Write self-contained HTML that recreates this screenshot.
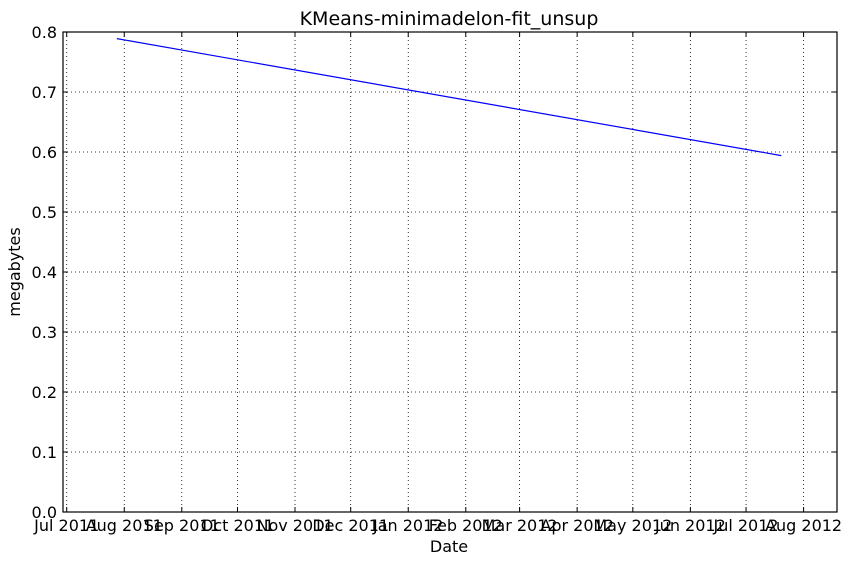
<!DOCTYPE html>
<html><head><meta charset="utf-8"><style>
body{margin:0;background:#fff;font-family:"Liberation Sans","DejaVu Sans",sans-serif}
svg text{font-family:"DejaVu Sans","Liberation Sans",sans-serif;font-size:16px;fill:#000}
</style></head><body>
<svg id="c" width="856" height="561" xmlns="http://www.w3.org/2000/svg">
<rect width="856" height="561" fill="#fff"/>
<text x="449" y="25" text-anchor="middle" style="font-size:19px">KMeans-minimadelon-fit_unsup</text>
<text x="449" y="552" text-anchor="middle">Date</text>
<text transform="translate(20,272) rotate(-90)" text-anchor="middle">megabytes</text>
</svg>
<script>
const xTickLabels=["Jul 2011","Aug 2011","Sep 2011","Oct 2011","Nov 2011","Dec 2011","Jan 2012","Feb 2012","Mar 2012","Apr 2012","May 2012","Jun 2012","Jul 2012","Aug 2012"];
const xTickDates=["2011-07-01","2011-08-01","2011-09-01","2011-10-01","2011-11-01","2011-12-01","2012-01-01","2012-02-01","2012-03-01","2012-04-01","2012-05-01","2012-06-01","2012-07-01","2012-08-01"];
const yTicks=[0,0.1,0.2,0.3,0.4,0.5,0.6,0.7,0.8];
const seriesDates=["2011-07-28","2012-07-20"];
const seriesValues=[0.789,0.594];
const L=63,R=837,T=32,B=512;
const d0=Date.UTC(2011,5,29), d1=Date.UTC(2012,7,19);
function day(s){const p=s.split('-');return Date.UTC(+p[0],+p[1]-1,+p[2]);}
function xs(s){return L+(day(s)-d0)/(d1-d0)*(R-L);}
function ys(v){return B-v/0.8*(B-T);}
const svg=document.getElementById('c');const NS='http://www.w3.org/2000/svg';
function mk(t,a){const e=document.createElementNS(NS,t);for(const k in a)e.setAttribute(k,a[k]);svg.appendChild(e);return e;}
yTicks.forEach(v=>{const y=ys(v);
 const g=mk('line',{x1:L,x2:R,y1:y,y2:y,stroke:'#000','stroke-width':0.8,'stroke-dasharray':'1,3'});
 
 
 mk('line',{x1:L,x2:L+5,y1:y,y2:y,stroke:'#000'});mk('line',{x1:R-5,x2:R,y1:y,y2:y,stroke:'#000'});
 const t=mk('text',{x:L-6,y:y+6,'text-anchor':'end'});t.textContent=v.toFixed(1);
 
 
});
xTickDates.forEach((s,i)=>{const x=xs(s);
 const g=mk('line',{x1:x,x2:x,y1:T,y2:B,stroke:'#000','stroke-width':0.8,'stroke-dasharray':'1,3'});
 
 
 mk('line',{x1:x,x2:x,y1:B,y2:B-5,stroke:'#000'});mk('line',{x1:x,x2:x,y1:T,y2:T+5,stroke:'#000'});
 const t=mk('text',{x:x,y:B+19,'text-anchor':'middle'});t.textContent=xTickLabels[i];
 
 
});
const f=mk('rect',{x:L,y:T,width:R-L,height:B-T,fill:'none',stroke:'#000','stroke-width':1.2});


const pts=seriesDates.map((s,i)=>xs(s)+','+ys(seriesValues[i])).join(' ');
const pl=mk('polyline',{points:pts,fill:'none',stroke:'#0000ff','stroke-width':1.2});


</script>
</body></html>
